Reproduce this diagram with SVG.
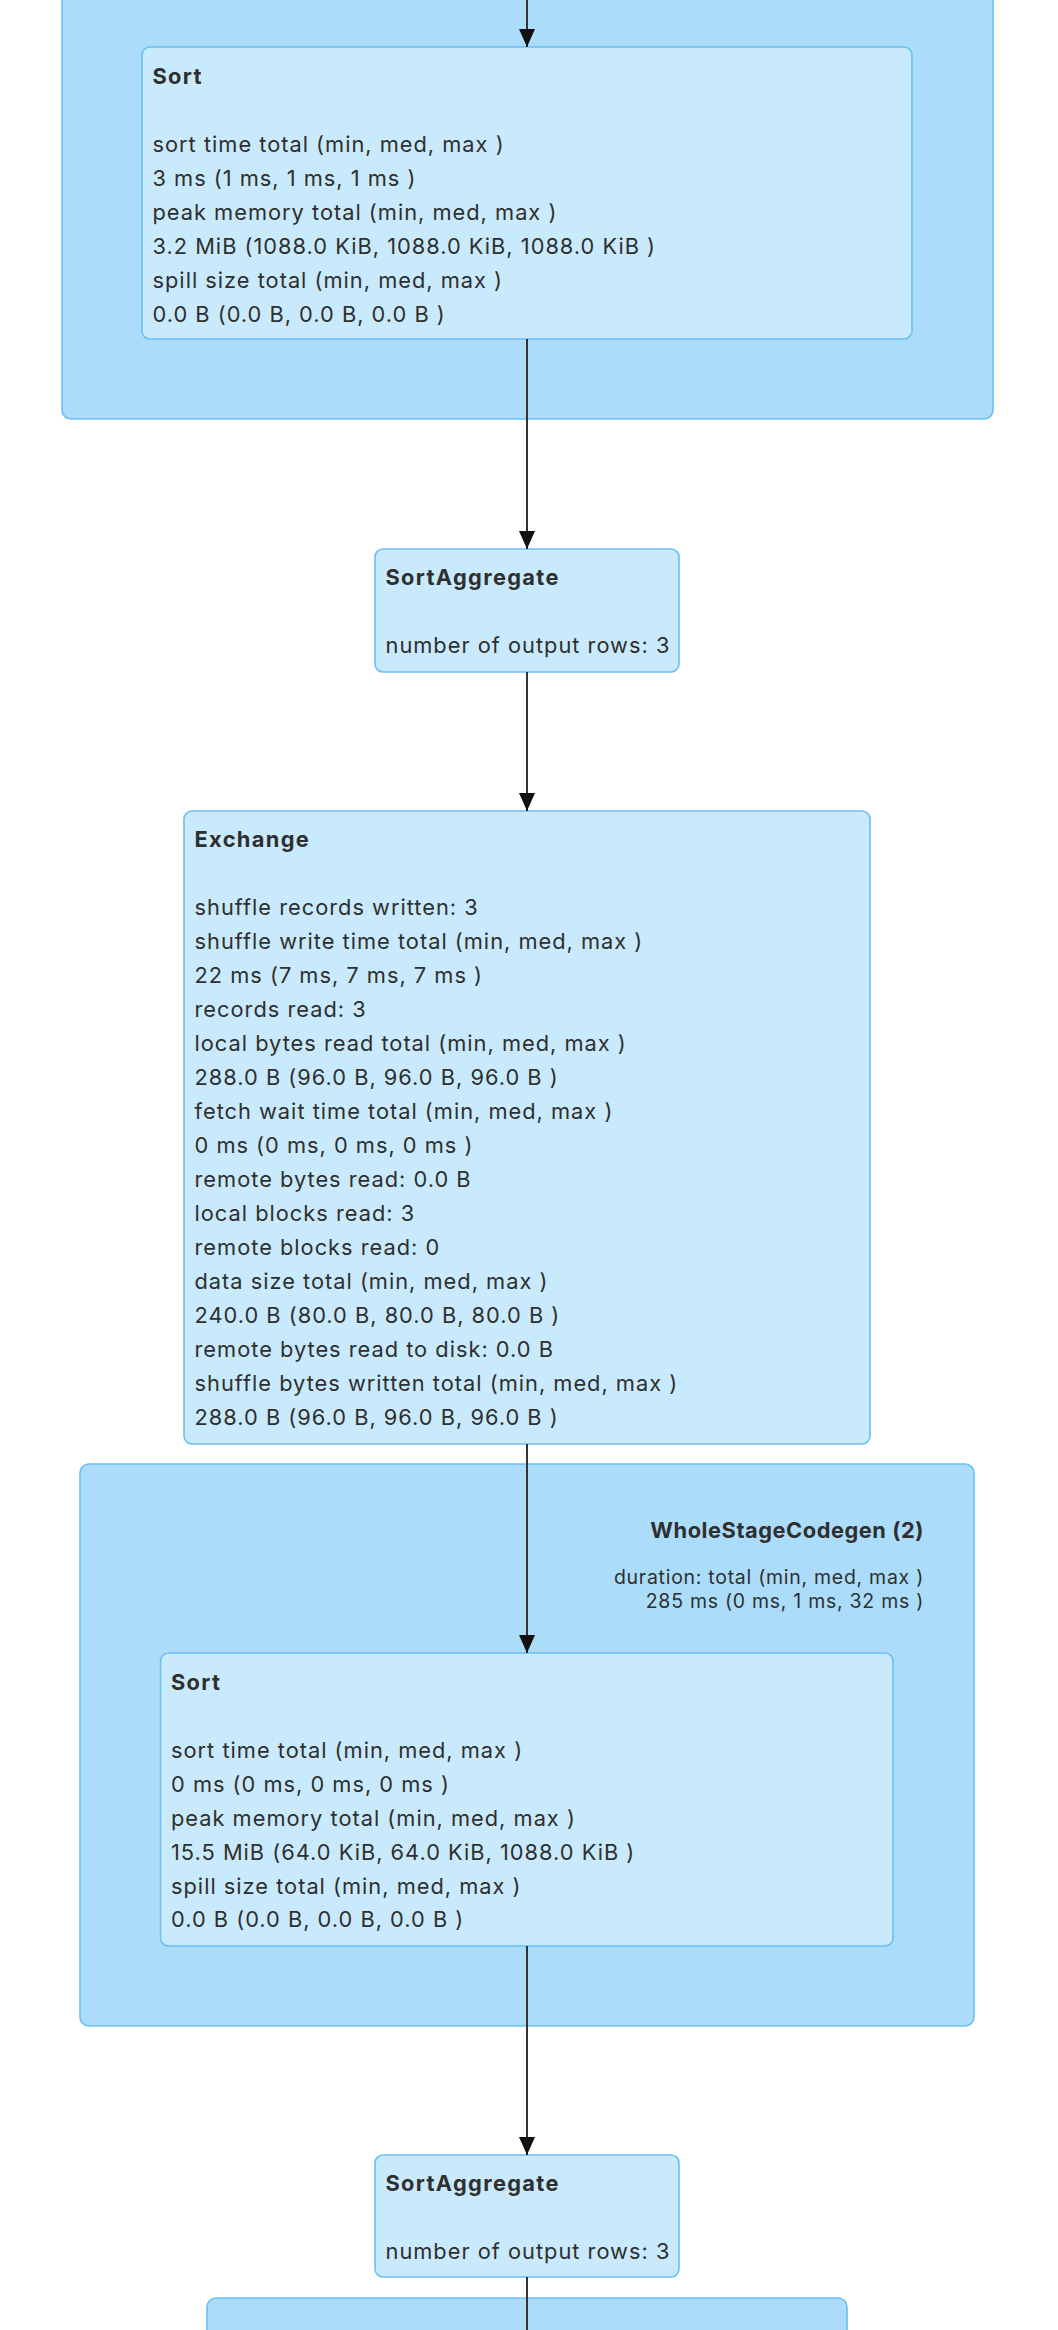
<svg xmlns="http://www.w3.org/2000/svg" width="1058" height="2330" viewBox="0 0 1058 2330">
<defs>
<marker id="arr" viewBox="0 0 18 16" refX="18" refY="8" markerWidth="18" markerHeight="16" markerUnits="userSpaceOnUse" orient="auto">
<path d="M0,0 L18,8 L0,16 Z" fill="#111"/>
</marker>
<style>
.cluster{fill:#ABDDFA;stroke:#6CBFF3;stroke-width:1.6}
.node{fill:#C9EAFC;stroke:#6CBFF3;stroke-width:1.6}
text{font-family:Inter,"Noto Sans","Liberation Sans",sans-serif;fill:#2f2f2f;font-size:21.8px;letter-spacing:1px}
.t{font-weight:bold;letter-spacing:1.35px}
.ct{font-weight:bold;text-anchor:end;letter-spacing:0.55px}
.cl{font-size:19.5px;text-anchor:end;letter-spacing:0.72px}
.edge{stroke:#333;stroke-width:2;fill:none;marker-end:url(#arr)}
</style>
</defs>
<g id="clusters">
<g id="cluster-top"><rect class="cluster" x="62" y="-40" width="931" height="459" rx="9"/></g>
<g id="cluster-wsc2"><rect class="cluster" x="80" y="1464" width="894" height="562" rx="9"/>
<text class="ct" x="924" y="1538">WholeStageCodegen (2)</text>
<text class="cl" x="924" y="1584">duration: total (min, med, max )</text>
<text class="cl" x="924" y="1608">285 ms (0 ms, 1 ms, 32 ms )</text>
</g>
<g id="cluster-bottom"><rect class="cluster" x="207" y="2298" width="640" height="80" rx="9"/></g>
</g>
<g id="sort1"><rect class="node" x="142" y="47" width="770" height="292" rx="8"/>
<text x="152.5" y="84"><tspan class="t">Sort</tspan>
<tspan x="152.5" y="152">sort time total (min, med, max )</tspan>
<tspan x="152.5" y="186">3 ms (1 ms, 1 ms, 1 ms )</tspan>
<tspan x="152.5" y="220">peak memory total (min, med, max )</tspan>
<tspan x="152.5" y="254">3.2 MiB (1088.0 KiB, 1088.0 KiB, 1088.0 KiB )</tspan>
<tspan x="152.5" y="288">spill size total (min, med, max )</tspan>
<tspan x="152.5" y="322">0.0 B (0.0 B, 0.0 B, 0.0 B )</tspan></text>
</g>
<g id="sortagg1"><rect class="node" x="375" y="549" width="304" height="123" rx="8"/>
<text x="385.5" y="585"><tspan class="t">SortAggregate</tspan>
<tspan x="385.5" y="653">number of output rows: 3</tspan></text>
</g>
<g id="exchange"><rect class="node" x="184" y="811" width="686" height="633" rx="8"/>
<text x="194.5" y="847"><tspan class="t">Exchange</tspan>
<tspan x="194.5" y="915">shuffle records written: 3</tspan>
<tspan x="194.5" y="949">shuffle write time total (min, med, max )</tspan>
<tspan x="194.5" y="983">22 ms (7 ms, 7 ms, 7 ms )</tspan>
<tspan x="194.5" y="1017">records read: 3</tspan>
<tspan x="194.5" y="1051">local bytes read total (min, med, max )</tspan>
<tspan x="194.5" y="1085">288.0 B (96.0 B, 96.0 B, 96.0 B )</tspan>
<tspan x="194.5" y="1119">fetch wait time total (min, med, max )</tspan>
<tspan x="194.5" y="1153">0 ms (0 ms, 0 ms, 0 ms )</tspan>
<tspan x="194.5" y="1187">remote bytes read: 0.0 B</tspan>
<tspan x="194.5" y="1221">local blocks read: 3</tspan>
<tspan x="194.5" y="1255">remote blocks read: 0</tspan>
<tspan x="194.5" y="1289">data size total (min, med, max )</tspan>
<tspan x="194.5" y="1323">240.0 B (80.0 B, 80.0 B, 80.0 B )</tspan>
<tspan x="194.5" y="1357">remote bytes read to disk: 0.0 B</tspan>
<tspan x="194.5" y="1391">shuffle bytes written total (min, med, max )</tspan>
<tspan x="194.5" y="1425">288.0 B (96.0 B, 96.0 B, 96.0 B )</tspan></text>
</g>
<g id="sort2"><rect class="node" x="160.5" y="1653" width="732.5" height="293" rx="8"/>
<text x="171" y="1690"><tspan class="t">Sort</tspan>
<tspan x="171" y="1758">sort time total (min, med, max )</tspan>
<tspan x="171" y="1792">0 ms (0 ms, 0 ms, 0 ms )</tspan>
<tspan x="171" y="1826">peak memory total (min, med, max )</tspan>
<tspan x="171" y="1860">15.5 MiB (64.0 KiB, 64.0 KiB, 1088.0 KiB )</tspan>
<tspan x="171" y="1894">spill size total (min, med, max )</tspan>
<tspan x="171" y="1927">0.0 B (0.0 B, 0.0 B, 0.0 B )</tspan></text>
</g>
<g id="sortagg2"><rect class="node" x="375" y="2155" width="304" height="122" rx="8"/>
<text x="385.5" y="2191"><tspan class="t">SortAggregate</tspan>
<tspan x="385.5" y="2259">number of output rows: 3</tspan></text>
</g>
<g id="connectors">
<line class="edge" x1="527" y1="0" x2="527" y2="47"/>
<line class="edge" x1="527" y1="339" x2="527" y2="549"/>
<line class="edge" x1="527" y1="672" x2="527" y2="811"/>
<line class="edge" x1="527" y1="1444" x2="527" y2="1653"/>
<line class="edge" x1="527" y1="1946" x2="527" y2="2155"/>
<line x1="527" y1="2277" x2="527" y2="2330" stroke="#333" stroke-width="2"/>
</g>
</svg>
